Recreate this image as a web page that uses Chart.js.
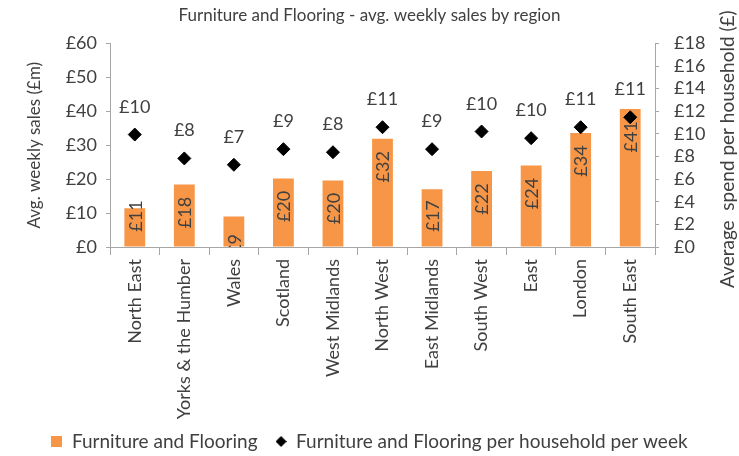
<!DOCTYPE html>
<html>
<head>
<meta charset="utf-8">
<script src="https://cdn.jsdelivr.net/npm/chart.js@4.4.1/dist/chart.umd.min.js"></script>
<style>
  html, body { margin: 0; padding: 0; background: #fff; }
  #wrap { width: 739px; height: 456px; }
</style>
</head>
<body>
<div id="wrap"><canvas id="chart"></canvas></div>
<script>
// data
const regions = ['North East', 'Yorks & the Humber', 'Wales', 'Scotland', 'West Midlands', 'North West',
  'East Midlands', 'South West', 'East', 'London', 'South East'];
const weeklySales = [11.4, 18.4, 9.0, 20.2, 19.6, 31.9, 17.0, 22.4, 24.0, 33.6, 40.7]; // £m
const spendPerHousehold = [9.94, 7.83, 7.27, 8.65, 8.38, 10.59, 8.65, 10.21, 9.62, 10.59, 11.47]; // £
const salesAxis = { min: 0, max: 60, step: 10 };
const spendAxis = { min: 0, max: 18, step: 2 };

const FONT = 'Lato';
const TEXT = '#404040';
const AXIS = '#a6a6a6';
const ORANGE = '#f79646';

// little legend markers
function marker(w, h, draw) {
  const c = document.createElement('canvas');
  c.width = w; c.height = h;
  draw(c.getContext('2d'));
  return c;
}
const squareMark = marker(11, 11, g => { g.fillStyle = ORANGE; g.fillRect(0, 0, 11, 11); });
const diamondMark = marker(11, 11, g => {
  g.fillStyle = '#000';
  g.beginPath(); g.moveTo(5.5, 0); g.lineTo(11, 5.5); g.lineTo(5.5, 11); g.lineTo(0, 5.5); g.closePath(); g.fill();
});

const valueLabels = {
  id: 'valueLabels',
  afterDatasetsDraw(chart) {
    const ctx = chart.ctx;
    const a = chart.chartArea;
    ctx.save();
    ctx.fillStyle = TEXT;
    ctx.font = '18px ' + FONT;
    // bar labels, rotated, inside the bar (cut off at the axis like the original)
    ctx.save();
    ctx.beginPath();
    ctx.rect(a.left, 0, a.right - a.left, a.bottom);
    ctx.clip();
    chart.getDatasetMeta(0).data.forEach((bar, i) => {
      let cy = bar.y + 28;
      if (cy > a.bottom - 31 && a.bottom - bar.y > 35) cy = a.bottom - 31;
      ctx.save();
      ctx.translate(bar.x + 1, cy);
      ctx.rotate(-Math.PI / 2);
      ctx.textAlign = 'center';
      ctx.textBaseline = 'middle';
      ctx.fillText('£' + Math.round(weeklySales[i]), 0, 0);
      ctx.restore();
    });
    ctx.restore();
    // point labels above the diamonds
    ctx.textAlign = 'center';
    ctx.textBaseline = 'alphabetic';
    chart.getDatasetMeta(1).data.forEach((pt, i) => {
      ctx.fillText('£' + Math.round(spendPerHousehold[i]), pt.x, pt.y - 22);
    });
    ctx.restore();
  }
};

// right axis title reads bottom-to-top like the left one
const rightTitle = {
  id: 'rightTitle',
  afterDraw(chart) {
    const ctx = chart.ctx;
    const a = chart.chartArea;
    ctx.save();
    ctx.fillStyle = TEXT;
    ctx.font = '19px ' + FONT;
    ctx.translate(728, (a.top + a.bottom) / 2 + 4);
    ctx.rotate(-Math.PI / 2);
    ctx.textAlign = 'center';
    ctx.textBaseline = 'middle';
    ctx.fillText('Average  spend per household (£)', 0, 0);
    ctx.restore();
  }
};

new Chart(document.getElementById('chart'), {
  data: {
    labels: regions,
    datasets: [{
      type: 'bar',
      label: 'Furniture and Flooring',
      data: weeklySales,
      backgroundColor: ORANGE,
      barPercentage: 0.42,
      categoryPercentage: 1,
      yAxisID: 'y',
      order: 1
    }, {
      type: 'line',
      label: 'Furniture and Flooring per household per week',
      data: spendPerHousehold,
      showLine: false,
      pointStyle: 'rectRot',
      pointRadius: 6.5,
      pointBackgroundColor: '#000',
      pointBorderColor: '#000',
      yAxisID: 'y1',
      order: 0
    }]
  },
  options: {
    responsive: true,
    maintainAspectRatio: false,
    animation: false,
    layout: { padding: { bottom: -5 } },
    plugins: {
      title: {
        display: true,
        text: 'Furniture and Flooring - avg. weekly sales by region',
        color: TEXT,
        font: { family: FONT, size: 17, weight: 'normal' },
        padding: { top: 5, bottom: 18 }
      },
      legend: {
        position: 'bottom',
        labels: {
          color: TEXT,
          font: { family: FONT, size: 19 },
          usePointStyle: true,
          boxWidth: 11,
          boxHeight: 11,
          padding: 18,
          generateLabels: chart => chart.data.datasets.map((ds, i) => ({
            text: ds.label,
            pointStyle: i === 0 ? squareMark : diamondMark,
            fontColor: TEXT,
            lineWidth: 0,
            datasetIndex: i
          }))
        }
      },
      tooltip: { enabled: false }
    },
    scales: {
      x: {
        offset: true,
        grid: { drawOnChartArea: false, color: AXIS, tickLength: 8, offset: true },
        border: { color: AXIS },
        ticks: {
          color: TEXT,
          font: { family: FONT, size: 18 },
          minRotation: 90,
          maxRotation: 90,
          autoSkip: false,
          padding: 4
        },
        afterFit: s => {
          s.height = 167;
          // long labels run down into the legend area in the original, so don't clip them
          s._computeLabelArea = () => undefined;
        }
      },
      y: {
        position: 'left',
        min: salesAxis.min,
        max: salesAxis.max,
        grid: { drawOnChartArea: false, color: AXIS, tickLength: 4 },
        border: { color: AXIS },
        ticks: {
          stepSize: salesAxis.step,
          autoSkip: false,
          color: TEXT,
          font: { family: FONT, size: 18 },
          padding: 9,
          callback: v => '£' + v
        },
        title: {
          display: true,
          text: 'Avg. weekly sales (£m)',
          color: TEXT,
          font: { family: FONT, size: 17 },
          padding: { top: 24, bottom: 0 }
        },
        afterFit: s => { s.width = 110; }
      },
      y1: {
        position: 'right',
        min: spendAxis.min,
        max: spendAxis.max,
        grid: { drawOnChartArea: false, color: AXIS, tickLength: 4 },
        border: { color: AXIS },
        ticks: {
          stepSize: spendAxis.step,
          autoSkip: false,
          color: TEXT,
          font: { family: FONT, size: 18 },
          padding: 15,
          callback: v => '£' + v
        },
        afterFit: s => { s.width = 84; }
      }
    }
  },
  plugins: [valueLabels, rightTitle]
});
</script>
</body>
</html>
